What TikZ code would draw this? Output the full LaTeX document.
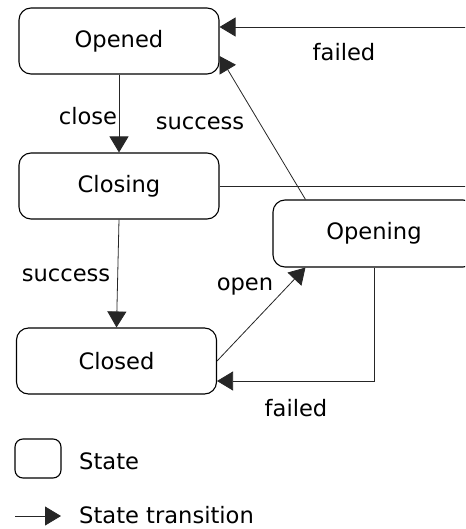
\documentclass[tikz,border=0pt]{standalone}
\usepackage{fontspec}
\setmainfont{DejaVu Sans}
\usetikzlibrary{arrows.meta}
\begin{document}
\begin{tikzpicture}[x=1pt,y=-1pt,
  font=\fontsize{22.6}{27}\selectfont,
  state/.style={draw=black, line width=1.1pt, rounded corners=12pt,
    minimum width=200pt, minimum height=66pt, inner sep=0pt},
  trans/.style={draw=black!85, line width=0.8pt,
    -{Triangle[length=16pt,width=19pt]}},
  plain/.style={draw=black!85, line width=0.8pt},
  lbl/.style={inner sep=0pt}]
\useasboundingbox (0,0) rectangle (465,529);
\begin{scope}
\clip (0,0) rectangle (465,529);

% states
\node[state] (Opened)  at (119,41)    {\raisebox{-1pt}{Opened}};
\node[state] (Closing) at (119,186)   {\raisebox{-1pt}{Closing}};
\node[state] (Closed)  at (116.5,361) {\raisebox{-1pt}{Closed}};
\node[state, minimum width=202pt, minimum height=67pt] (Opening) at (374,233.5) {\raisebox{-1pt}{Opening}};

% free ends running off to the right
\coordinate (topR)  at (470,27);
\coordinate (midR)  at (470,186);

% transitions
\draw[trans] (Opened.south) -- (Closing.north);
\draw[trans] (Closing.south) -- (Closed.north);
\draw[trans] (Closed.east) -- ([xshift=33pt]Opening.south west);
\draw[trans] ([xshift=33pt]Opening.north west) -- ([yshift=-15pt]Opened.east);
\draw[trans] (topR) -- ([yshift=14pt]Opened.east);
\draw[plain] (Closing.east) -- (midR);
\draw[trans] (Opening.south) |- ([yshift=-20pt]Closed.east);
\end{scope}

% transition labels
\node[lbl] (lClose)   at (88,116)  {close};
\node[lbl] (lSucc1)   at (200,123) {success};
\node[lbl] (lFail1)   at (344,52)  {failed};
\node[lbl] (lSucc2)   at (66,275)  {success};
\node[lbl] (lOpen)    at (245,287) {open};
\node[lbl] (lFail2)   at (296,408) {failed};

% legend
\node[draw=black, line width=1.1pt, rounded corners=8pt,
  minimum width=46pt, minimum height=39pt, inner sep=0pt] (legState) at (38,458.5) {};
\node[lbl, anchor=west] (legStateT) at (79,461.5) {State};
\coordinate (legA) at (15,516);
\coordinate (legB) at (61,516);
\draw[trans] (legA) -- (legB);
\node[lbl, anchor=west] (legTransT) at (79,515.5) {State transition};
\end{tikzpicture}
\end{document}
